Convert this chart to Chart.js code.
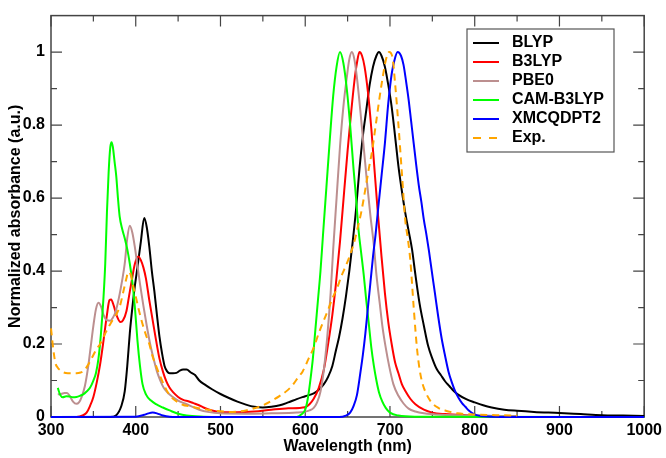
<!DOCTYPE html>
<html>
<head>
<meta charset="utf-8">
<title>Normalized absorbance</title>
<script src="https://cdn.jsdelivr.net/npm/chart.js@4.4.1/dist/chart.umd.min.js"></script>
<style>
  html, body { margin: 0; padding: 0; background: #fff; }
  #wrap { width: 666px; height: 458px; }
</style>
</head>
<body>
<div id="wrap"><canvas id="spec" width="666" height="458"></canvas></div>
<script>
var names = ['BLYP', 'B3LYP', 'PBE0', 'CAM-B3LYP', 'XMCQDPT2', 'Exp.'];
var xTicks = [300, 400, 500, 600, 700, 800, 900, 1000];
var xMinor = [350, 450, 550, 650, 750, 850, 950];
var yTicks = [0, 0.2, 0.4, 0.6, 0.8, 1];
var yMinor = [0.1, 0.3, 0.5, 0.7, 0.9];

var blypWl = [300, 370, 377, 383, 387, 390, 393, 396, 399, 402, 406, 410, 413, 416, 419, 422, 425, 428, 431, 434, 437, 440, 444, 448, 452, 456, 460, 465, 470, 475, 482, 490, 500, 510, 520, 530, 540, 550, 560, 570, 580, 590, 600, 610, 616, 622, 627, 632, 636, 640, 644, 648, 652, 656, 660, 664, 668, 672, 676, 680, 684, 687, 690, 694, 698, 702, 706, 710, 714, 718, 722, 726, 730, 735, 740, 745, 750, 755, 760, 765, 770, 775, 780, 790, 800, 810, 820, 835, 850, 870, 900, 925, 950, 975, 1000];
var blypAbs = [0, 0, 0.005, 0.03, 0.07, 0.14, 0.23, 0.30, 0.36, 0.41, 0.48, 0.545, 0.52, 0.467, 0.40, 0.344, 0.28, 0.22, 0.175, 0.14, 0.125, 0.12, 0.12, 0.121, 0.127, 0.13, 0.13, 0.122, 0.115, 0.1, 0.088, 0.076, 0.063, 0.052, 0.042, 0.034, 0.028, 0.026, 0.028, 0.032, 0.04, 0.049, 0.057, 0.065, 0.075, 0.09, 0.11, 0.14, 0.18, 0.22, 0.27, 0.33, 0.40, 0.48, 0.57, 0.68, 0.77, 0.84, 0.91, 0.96, 0.99, 1.0, 0.99, 0.96, 0.91, 0.85, 0.77, 0.687, 0.62, 0.56, 0.51, 0.46, 0.39, 0.31, 0.25, 0.195, 0.16, 0.132, 0.115, 0.098, 0.085, 0.072, 0.062, 0.049, 0.04, 0.032, 0.026, 0.02, 0.017, 0.014, 0.011, 0.008, 0.005, 0.004, 0.003];

var b3lypWl = [300, 330, 338, 342, 346, 350, 354, 358, 362, 366, 369, 371, 374, 378, 382, 385, 389, 392, 395, 399, 403, 406, 409, 412, 416, 420, 424, 428, 432, 436, 440, 444, 450, 456, 462, 468, 474, 480, 490, 500, 520, 540, 560, 580, 600, 605, 610, 616, 622, 627, 632, 636, 641, 646, 650, 654, 658, 661, 664, 667, 670, 674, 678, 682, 686, 690, 694, 698, 702, 706, 710, 714, 718, 724, 730, 740, 750, 765, 790, 820, 850];
var b3lypAbs = [0, 0, 0.005, 0.012, 0.03, 0.055, 0.095, 0.145, 0.21, 0.28, 0.32, 0.322, 0.305, 0.275, 0.26, 0.265, 0.29, 0.33, 0.37, 0.42, 0.44, 0.43, 0.41, 0.38, 0.32, 0.265, 0.21, 0.16, 0.125, 0.098, 0.08, 0.068, 0.055, 0.047, 0.043, 0.038, 0.033, 0.026, 0.018, 0.014, 0.013, 0.015, 0.02, 0.024, 0.027, 0.035, 0.05, 0.08, 0.13, 0.2, 0.28, 0.36, 0.48, 0.62, 0.73, 0.83, 0.92, 0.97, 1.0, 0.99, 0.96, 0.89, 0.79, 0.67, 0.55, 0.44, 0.34, 0.26, 0.2, 0.15, 0.12, 0.09, 0.072, 0.05, 0.035, 0.02, 0.012, 0.008, 0.005, 0.003, 0.002];

var pbe0Wl = [308, 312, 316, 319, 322, 326, 330, 333, 336, 340, 344, 347, 350, 353, 356, 359, 362, 366, 370, 373, 376, 380, 384, 387, 390, 393, 396, 399, 402, 405, 409, 413, 417, 421, 425, 429, 433, 437, 443, 450, 458, 465, 475, 485, 500, 530, 560, 590, 605, 610, 614, 618, 622, 626, 630, 633, 637, 641, 645, 649, 652, 655, 658, 661, 665, 669, 673, 677, 681, 684, 688, 691, 695, 699, 704, 710, 716, 722, 730, 740, 760, 800, 850];
var pbe0Abs = [0.062, 0.063, 0.066, 0.066, 0.058, 0.042, 0.036, 0.04, 0.054, 0.085, 0.14, 0.195, 0.25, 0.295, 0.313, 0.303, 0.28, 0.265, 0.264, 0.272, 0.287, 0.325, 0.375, 0.42, 0.49, 0.524, 0.505, 0.465, 0.415, 0.365, 0.305, 0.25, 0.2, 0.16, 0.125, 0.1, 0.08, 0.068, 0.056, 0.045, 0.037, 0.03, 0.02, 0.014, 0.01, 0.009, 0.01, 0.012, 0.018, 0.025, 0.04, 0.07, 0.13, 0.22, 0.34, 0.46, 0.6, 0.74, 0.85, 0.93, 0.98, 1.0, 0.98, 0.93, 0.84, 0.74, 0.64, 0.55, 0.47, 0.39, 0.31, 0.25, 0.19, 0.14, 0.09, 0.058, 0.037, 0.023, 0.015, 0.01, 0.006, 0.004, 0.002];

var camWl = [308, 311, 314, 318, 322, 326, 330, 334, 338, 342, 346, 350, 353, 356, 359, 362, 364, 366, 368, 370, 371.5, 373, 375, 377, 379, 381, 384, 387, 390, 393, 396, 399, 402, 405, 408, 412, 418, 424, 432, 440, 450, 460, 480, 500, 590, 596, 600, 603, 606, 609, 612, 615, 618, 621, 625, 629, 633, 637, 641, 645, 649, 653, 657, 660, 663, 666, 669, 672, 675, 678, 681, 684, 687, 691, 695, 700, 710, 730, 1000];
var camAbs = [0.08, 0.06, 0.054, 0.057, 0.056, 0.054, 0.055, 0.058, 0.062, 0.07, 0.08, 0.1, 0.12, 0.16, 0.23, 0.33, 0.42, 0.56, 0.67, 0.74, 0.753, 0.74, 0.7, 0.66, 0.6, 0.55, 0.515, 0.49, 0.46, 0.42, 0.37, 0.3, 0.21, 0.14, 0.09, 0.062, 0.045, 0.035, 0.026, 0.018, 0.009, 0.004, 0.001, 0, 0, 0.008, 0.02, 0.05, 0.1, 0.16, 0.24, 0.32, 0.4, 0.5, 0.63, 0.76, 0.88, 0.96, 1.0, 0.97, 0.9, 0.8, 0.68, 0.6, 0.51, 0.45, 0.39, 0.32, 0.256, 0.19, 0.14, 0.1, 0.068, 0.042, 0.025, 0.012, 0.004, 0.001, 0];

var xmcWl = [300, 400, 410, 415, 420, 425, 432, 440, 460, 640, 648, 653, 657, 661, 665, 668, 671, 674, 677, 680, 683, 686, 690, 694, 698, 702, 705, 709, 713, 716, 719, 722, 725, 728, 731, 734, 737, 740, 743, 746, 749, 753, 757, 761, 765, 769, 773, 777, 781, 785, 789, 793, 797, 802, 810, 830, 1000];
var xmcAbs = [0, 0.001, 0.006, 0.01, 0.012, 0.01, 0.004, 0.001, 0, 0, 0.004, 0.012, 0.03, 0.06, 0.12, 0.17, 0.23, 0.3, 0.37, 0.44, 0.5, 0.57, 0.66, 0.75, 0.86, 0.94, 0.975, 1.0, 0.99, 0.965, 0.92, 0.87, 0.81, 0.75, 0.69, 0.635, 0.59, 0.54, 0.5, 0.455, 0.405, 0.34, 0.274, 0.215, 0.168, 0.125, 0.095, 0.07, 0.052, 0.038, 0.028, 0.018, 0.011, 0.005, 0.002, 0, 0];

var expWl = [300, 302, 305, 308, 311, 315, 320, 325, 330, 335, 339, 343, 346, 350, 354, 358, 362, 366, 370, 374, 378, 382, 386, 389, 391, 394, 397, 400, 404, 408, 412, 416, 420, 424, 428, 432, 436, 440, 444, 450, 456, 463, 470, 480, 490, 500, 510, 520, 530, 540, 550, 560, 570, 580, 586, 592, 597, 604, 610, 616, 622, 628, 632, 637, 643, 649, 655, 659, 662, 666, 671, 675, 679, 682, 685, 688, 691, 695, 699, 703, 706, 710, 714, 718, 721, 724, 728, 732, 735, 738, 742, 749, 757, 765, 780, 800, 825, 850];
var expAbs = [0.243, 0.2, 0.15, 0.135, 0.128, 0.122, 0.12, 0.12, 0.12, 0.122, 0.127, 0.14, 0.152, 0.17, 0.187, 0.2, 0.22, 0.238, 0.255, 0.27, 0.285, 0.31, 0.35, 0.38, 0.397, 0.39, 0.36, 0.33, 0.29, 0.255, 0.225, 0.2, 0.165, 0.14, 0.116, 0.095, 0.075, 0.06, 0.05, 0.04, 0.033, 0.03, 0.026, 0.022, 0.018, 0.016, 0.014, 0.015, 0.018, 0.024, 0.032, 0.044, 0.058, 0.075, 0.09, 0.11, 0.125, 0.16, 0.19, 0.23, 0.265, 0.3, 0.325, 0.35, 0.388, 0.42, 0.458, 0.49, 0.52, 0.56, 0.625, 0.68, 0.73, 0.78, 0.83, 0.88, 0.925, 0.977, 1.0, 0.985, 0.915, 0.8, 0.67, 0.54, 0.49, 0.43, 0.3, 0.185, 0.13, 0.095, 0.068, 0.04, 0.025, 0.018, 0.01, 0.007, 0.005, 0.004];

var colors = ['#000000', '#ff0000', '#bc8f8f', '#00ff00', '#0000ff', '#ffa500'];
var font = 'Liberation Sans, Arial, Helvetica, sans-serif';

function pts(wl, abs) {
    return wl.map(function (w, i) { return {x: w, y: abs[i]}; });
}

var series = [
    pts(blypWl, blypAbs),
    pts(b3lypWl, b3lypAbs),
    pts(pbe0Wl, pbe0Abs),
    pts(camWl, camAbs),
    pts(xmcWl, xmcAbs),
    pts(expWl, expAbs)
];

var datasets = series.map(function (d, i) {
    return {
        label: names[i],
        data: d,
        borderColor: colors[i],
        borderWidth: 2,
        borderDash: i === 5 ? [7, 5] : [],
        pointRadius: 0,
        cubicInterpolationMode: 'monotone',
        fill: false,
        clip: false,
        order: names.length - i
    };
});

// frame with inward ticks on all four sides
var framePlugin = {
    id: 'frame',
    beforeDatasetsDraw: function (chart) {
        var ctx = chart.ctx, a = chart.chartArea;
        var xs = chart.scales.x, ys = chart.scales.y;
        ctx.save();
        ctx.strokeStyle = '#444';
        ctx.lineWidth = 1.5;
        ctx.strokeRect(a.left, a.top, a.right - a.left, a.bottom - a.top);
        ctx.lineWidth = 1.2;
        ctx.beginPath();
        function xt(v, len) {
            var p = xs.getPixelForValue(v);
            ctx.moveTo(p, a.bottom); ctx.lineTo(p, a.bottom - len);
            ctx.moveTo(p, a.top); ctx.lineTo(p, a.top + len);
        }
        function yt(v, len) {
            var p = ys.getPixelForValue(v);
            ctx.moveTo(a.left, p); ctx.lineTo(a.left + len, p);
            ctx.moveTo(a.right, p); ctx.lineTo(a.right - len, p);
        }
        xTicks.forEach(function (v) { xt(v, 11); });
        xMinor.forEach(function (v) { xt(v, 6); });
        yTicks.forEach(function (v) { yt(v, 11); });
        yMinor.forEach(function (v) { yt(v, 6); });
        ctx.stroke();
        ctx.restore();
    }
};

var legendPlugin = {
    id: 'boxLegend',
    afterDatasetsDraw: function (chart) {
        var ctx = chart.ctx;
        var bx = 467, by = 29, bw = 147, bh = 123;
        ctx.save();
        ctx.fillStyle = '#fff';
        ctx.fillRect(bx, by, bw, bh);
        ctx.strokeStyle = '#555';
        ctx.lineWidth = 1.2;
        ctx.strokeRect(bx, by, bw, bh);
        ctx.font = 'bold 16px ' + font;
        ctx.textBaseline = 'middle';
        ctx.textAlign = 'left';
        names.forEach(function (n, i) {
            var y = by + 14 + i * 19;
            ctx.strokeStyle = colors[i];
            ctx.lineWidth = 2;
            ctx.setLineDash(i === 5 ? [8, 8] : []);
            ctx.beginPath();
            ctx.moveTo(bx + 6, y);
            ctx.lineTo(bx + 32, y);
            ctx.stroke();
            ctx.fillStyle = '#000';
            ctx.fillText(n, bx + 45, y);
        });
        ctx.restore();
    }
};

var chart = new Chart(document.getElementById('spec'), {
    type: 'line',
    data: {datasets: datasets},
    options: {
        responsive: false,
        devicePixelRatio: 1,
        animation: false,
        layout: {padding: {top: 1, right: 19, left: 0, bottom: 0}},
        plugins: {legend: {display: false}, tooltip: {enabled: false}},
        scales: {
            x: {
                type: 'linear',
                min: 300,
                max: 1000,
                afterFit: function (s) { s.height = 41; },
                afterBuildTicks: function (s) { s.ticks = xTicks.map(function (v) { return {value: v}; }); },
                grid: {display: false, drawTicks: false},
                border: {display: false},
                ticks: {
                    padding: 4,
                    color: '#000',
                    font: {family: font, size: 16, weight: 'bold'},
                    maxRotation: 0,
                    autoSkip: false,
                    callback: function (v) { return String(v); }
                },
                title: {
                    display: true,
                    text: 'Wavelength (nm)',
                    color: '#000',
                    font: {family: font, size: 16, weight: 'bold'},
                    padding: {top: 0, bottom: 2}
                }
            },
            y: {
                type: 'linear',
                min: 0,
                max: 1.1,
                afterFit: function (s) { s.width = 51; },
                afterBuildTicks: function (s) { s.ticks = yTicks.map(function (v) { return {value: v}; }); },
                grid: {display: false, drawTicks: false},
                border: {display: false},
                ticks: {
                    padding: 6,
                    color: '#000',
                    font: {family: font, size: 16, weight: 'bold'},
                    autoSkip: false,
                    callback: function (v) { return String(v); }
                },
                title: {
                    display: true,
                    text: 'Normalized absorbance (a.u.)',
                    color: '#000',
                    font: {family: font, size: 16, weight: 'bold'},
                    padding: {top: 6, bottom: 0}
                }
            }
        }
    },
    plugins: [framePlugin, legendPlugin]
});
</script>
</body>
</html>
